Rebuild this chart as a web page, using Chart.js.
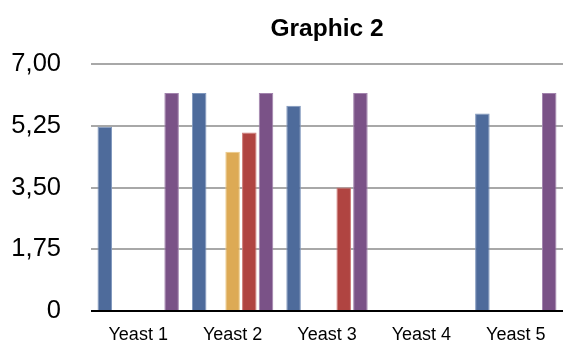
<!DOCTYPE html>
<html>
<head>
<meta charset="utf-8">
<script src="https://cdn.jsdelivr.net/npm/chart.js@4/dist/chart.umd.min.js"></script>
<style>
  html, body { margin: 0; padding: 0; background: #fff; }
  #wrap { width: 563px; height: 342px; position: relative; }
</style>
</head>
<body>
<div id="wrap"><canvas id="c" width="563" height="342"></canvas></div>
<script>
// Categories and series values
const categories = ["Yeast 1", "Yeast 2", "Yeast 3", "Yeast 4", "Yeast 5"];
const seriesBlue   = [5.22, 6.18, 5.82, null, 5.6];
const seriesGreen  = [null, null, null, null, null];
const seriesYellow = [null, 4.51, null, null, null];
const seriesRed    = [null, 5.06, 3.5, null, null];
const seriesPurple = [6.18, 6.18, 6.18, null, 6.18];
const yTicks = [0, 1.75, 3.5, 5.25, 7];
const yTickLabels = ["0", "1,75", "3,50", "5,25", "7,00"];

const FONT = "'Liberation Sans', Arial, Helvetica, sans-serif";

function ds(label, data, fill, edge) {
  return {
    label, data,
    backgroundColor: fill,
    borderColor: edge,
    borderWidth: 1,
    categoryPercentage: 0.885,
    barPercentage: 0.87
  };
}

new Chart(document.getElementById('c'), {
  type: 'bar',
  data: {
    labels: categories,
    datasets: [
      ds('Series 1', seriesBlue,   '#4e6b9b', '#7f97bd'),
      ds('Series 2', seriesGreen,  '#6a9a4e', '#8fb876'),
      ds('Series 3', seriesYellow, '#ddaa55', '#ecc985'),
      ds('Series 4', seriesRed,    '#b04441', '#cf7a77'),
      ds('Series 5', seriesPurple, '#7a5287', '#a283ad')
    ]
  },
  options: {
    responsive: false,
    animation: false,
    layout: { padding: { left: 0, right: 0, top: 0, bottom: 0 } },
    plugins: {
      legend: { display: false },
      tooltip: { enabled: false },
      title: {
        display: true,
        text: 'Graphic 2',
        fullSize: false,
        color: '#000',
        font: { family: FONT, size: 24.5, weight: 'bold', lineHeight: 1.2 },
        padding: { top: 15, bottom: 19.6 }
      }
    },
    scales: {
      x: {
        grid: { display: false, drawTicks: false },
        border: { display: false },
        ticks: {
          color: '#000',
          padding: 13.5,
          font: { family: FONT, size: 18, lineHeight: 1.2 }
        },
        afterFit(scale) { scale.height = 31; scale.paddingLeft = 0; scale.paddingRight = 0; }
      },
      y: {
        min: 0,
        max: 7,
        afterBuildTicks(scale) { scale.ticks = yTicks.map(v => ({ value: v })); },
        grid: {
          drawTicks: false,
          lineWidth: 2,
          color: (ctx) => (ctx.tick && ctx.tick.value === 0) ? '#000000' : '#a8a8a8'
        },
        border: { display: false },
        ticks: {
          color: '#000',
          padding: 30,
          font: { family: FONT, size: 25.5, lineHeight: 1.2 },
          callback: (value) => {
            const i = yTicks.indexOf(value);
            return i >= 0 ? yTickLabels[i] : '';
          }
        },
        afterFit(scale) {
          scale.width = 91;
          scale.paddingTop = 0;
          scale.paddingBottom = 0;
        }
      }
    }
  }
});
</script>
</body>
</html>
